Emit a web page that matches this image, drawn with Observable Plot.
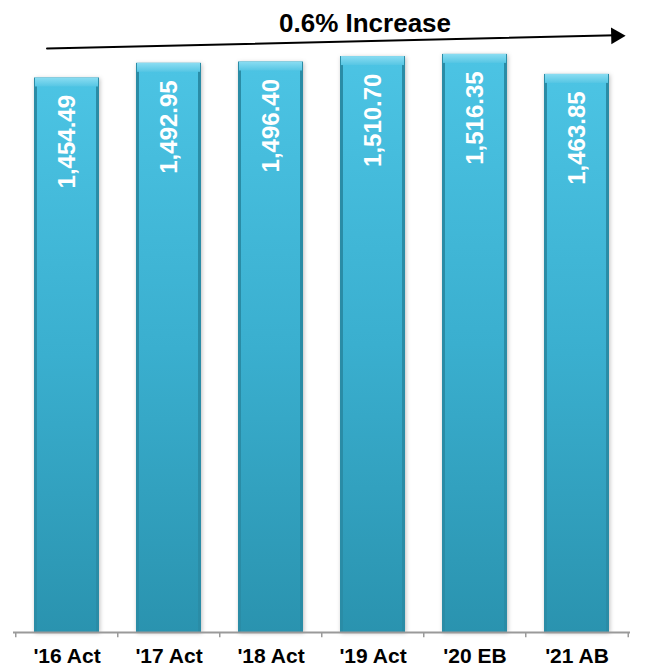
<!DOCTYPE html>
<html>
<head>
<meta charset="utf-8">
<script src="https://cdn.jsdelivr.net/npm/d3@7"></script>
<script src="https://cdn.jsdelivr.net/npm/@observablehq/plot@0.6"></script>
<style>
  html, body { margin: 0; padding: 0; background: #fff; }
  #chart svg { display: block; }
</style>
</head>
<body>
<div id="chart"></div>
<script>
// ---- data ----
const categories = ["'16 Act", "'17 Act", "'18 Act", "'19 Act", "'20 EB", "'21 AB"];
const values = [1454.49, 1492.95, 1496.40, 1510.70, 1516.35, 1463.85];
const annotationText = ["0.6% Increase"];
const arrowFrom = ["'16 Act"];
const arrowTo = ["'21 AB"];
const arrowY = [1533, 1564];      // arrow start / end heights in data units
const titleY = [1576];

const data = categories.map((c, i) => ({cat: c, value: values[i]}));
const fmt = d3.format(",.2f");
const font = "'Liberation Sans', Arial, Helvetica, sans-serif";

const width = 649, height = 669;
const marginLeft = 14, marginRight = 20, marginTop = 22, marginBottom = 37;
const n = categories.length;
const pIn = 0.36, pOut = 0.18;
const step = (width - marginLeft - marginRight) / (n - pIn + 2 * pOut);

const plot = Plot.plot({
  width, height, marginLeft, marginRight, marginTop, marginBottom,
  style: {fontFamily: font, background: "#fff", overflow: "visible"},
  x: {domain: categories, paddingInner: pIn, paddingOuter: pOut, axis: null, label: null},
  y: {domain: [0, 1600], axis: null, label: null},
  marks: [
    // bar body with darker side edges
    Plot.barY(data, {x: "cat", y: "value", fill: "#2A8CA6"}),
    Plot.barY(data, {x: "cat", y: "value", fill: "url(#barGrad)", insetLeft: 3, insetRight: 3, insetTop: 1}),
    // top bevel highlight
    Plot.barY(data, {x: "cat", y1: "value", y2: "value", insetBottom: -9, fill: "url(#bevelGrad)", insetLeft: 1, insetRight: 1}),
    // value labels inside bars
    Plot.text(data, {
      x: "cat", y: "value", text: d => fmt(d.value),
      rotate: -90, textAnchor: "end", lineAnchor: "middle", dy: 17,
      fill: "white", fontSize: 24, fontWeight: "bold"
    }),
    // baseline and boundary ticks
    Plot.ruleX(categories, {x: d => d, y1: 0, y2: -14, dx: -step / 2, stroke: "#9a9a9a", strokeWidth: 1.5}),
    Plot.ruleX([categories[n - 1]], {x: d => d, y1: 0, y2: -14, dx: step / 2, stroke: "#9a9a9a", strokeWidth: 1.5}),
    Plot.ruleY([0], {stroke: "#9a9a9a", strokeWidth: 2, insetLeft: -1, insetRight: -1}),
    Plot.axisX({
      tickSize: 0, tickPadding: 16, fontSize: 21, fontWeight: "bold", fill: "black", color: "black", label: null
    }),
    // trend arrow
    Plot.arrow([0], {
      x1: () => arrowFrom[0], x2: () => arrowTo[0], y1: () => arrowY[0], y2: () => arrowY[1],
      insetStart: -20, insetEnd: -39, headLength: 0, stroke: "black", strokeWidth: 2
    }),
    Plot.dot([0], {
      x: () => arrowTo[0], y: () => arrowY[1] + 1, dx: 39, symbol: "triangle", r: 6.2,
      rotate: 88.7, fill: "black", stroke: "none"
    }),
    Plot.text(annotationText, {
      x: () => categories[3], y: () => titleY[0], text: d => d, dx: -8,
      lineAnchor: "bottom", fontSize: 26, fontWeight: "bold", fill: "black"
    })
  ]
});

// gradients for the bar faces
const svgNS = "http://www.w3.org/2000/svg";
const defs = document.createElementNS(svgNS, "defs");
defs.innerHTML = `
  <linearGradient id="barGrad" x1="0" y1="0" x2="0" y2="1">
    <stop offset="0" stop-color="#4CC4E4"/>
    <stop offset="0.5" stop-color="#3AAFCF"/>
    <stop offset="1" stop-color="#2A93AF"/>
  </linearGradient>
  <linearGradient id="bevelGrad" x1="0" y1="0" x2="0" y2="1">
    <stop offset="0" stop-color="#8BDDF2"/>
    <stop offset="1" stop-color="#56C6E4"/>
  </linearGradient>
  <filter id="barShadow" x="-20%" y="-5%" width="140%" height="110%">
    <feDropShadow dx="1" dy="1" stdDeviation="2" flood-color="#000" flood-opacity="0.25"/>
  </filter>`;
plot.insertBefore(defs, plot.firstChild);
const firstBar = plot.querySelector("g[aria-label='bar']");
if (firstBar) firstBar.setAttribute("filter", "url(#barShadow)");

document.getElementById("chart").appendChild(plot);
</script>
</body>
</html>
